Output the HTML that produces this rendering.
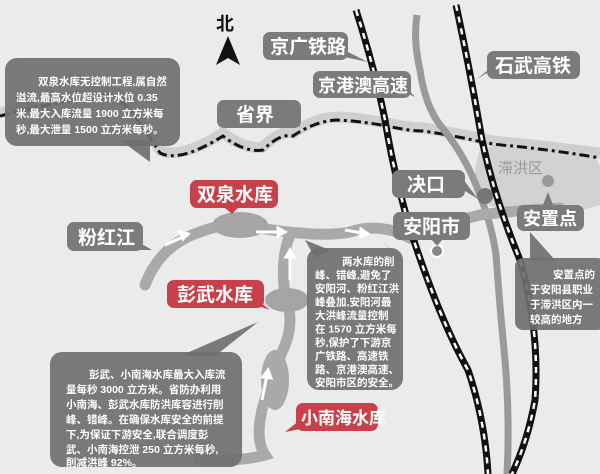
<!DOCTYPE html>
<html><head><meta charset="utf-8"><style>
html,body{margin:0;padding:0;background:#ebebec;}
svg{display:block}
text{font-family:"Liberation Sans","Noto Sans CJK SC",sans-serif;}
.lb{font-weight:bold;fill:#fff;font-size:19px}
.ct{font-family:"Noto Serif CJK SC","Liberation Serif",serif;fill:#fff;font-size:10.5px;font-weight:bold}
</style></head><body>
<svg width="600" height="474" viewBox="0 0 600 474" xmlns="http://www.w3.org/2000/svg">
<rect width="600" height="474" fill="#ebebec"/>
<!-- flood area -->
<path d="M480,150 Q520,135 560,148 Q600,150 600,170 L600,205 Q570,215 540,210 Q500,215 480,200 Q470,175 480,150Z" fill="#d2d2d3"/>
<!-- province border -->
<path d="M0,113 Q50,100 113,90 Q135,110 160,150 Q180,160 223,133 Q245,150 263,147 Q280,130 293,133 Q315,118 337,117 Q360,118 387,123 Q410,128 423,128 Q450,132 473,137 Q495,142 513,143 Q560,148 600,153" fill="none" stroke="#cfcfd0" stroke-width="11"/>
<path d="M0,116 Q50,103 113,93 Q135,113 160,153 Q180,163 223,136 Q245,153 263,150 Q280,133 293,136 Q315,121 337,120 Q360,121 387,126 Q410,131 423,131 Q450,135 473,140 Q495,145 513,146 Q560,151 600,158" fill="none" stroke="#111" stroke-width="3" stroke-dasharray="10,4,3,4"/>
<!-- expressway -->
<path d="M417,15 Q413,40 420,70 Q425,105 440,125 Q465,155 478,190 Q492,225 496,255 Q500,310 505,360 Q510,420 507,474" fill="none" stroke="#9a9a9b" stroke-width="7"/>
<!-- rivers -->
<g fill="none" stroke="#a9a9aa" stroke-width="11" stroke-linecap="round">
<path d="M145,285 Q160,245 200,232 Q225,222 250,226 Q280,232 300,233 Q330,236 350,232 Q380,222 410,238"/>
<path d="M290,235 Q280,260 285,295 Q295,320 285,345 Q270,380 262,410 Q255,440 265,455 Q240,462 200,460"/>
<path d="M410,238 Q440,225 480,215 Q520,210 560,208"/>
</g>
<ellipse cx="240" cy="225" rx="28" ry="13" fill="#a5a5a6"/>
<ellipse cx="287" cy="300" rx="22" ry="12" fill="#a5a5a6"/>
<ellipse cx="275" cy="380" rx="14" ry="30" fill="#a9a9aa"/>
<g stroke="#fff" stroke-width="3" fill="#fff">
<line x1="165" y1="245" x2="185" y2="236"/><path d="M188,234 l-8,-2 l3,7z"/>
<line x1="256" y1="232" x2="280" y2="232"/><path d="M285,232 l-7,-4 v8z"/>
<line x1="290" y1="280" x2="290" y2="255"/><path d="M290,250 l-4,7 h8z"/>
<line x1="262" y1="400" x2="267" y2="375"/><path d="M268,370 l-5,7 l8,1z"/>
<line x1="345" y1="230" x2="362" y2="233"/><path d="M368,234 l-7,-5 l-1,8z"/>
</g>
<!-- railways -->
<g fill="none" stroke-linecap="butt">
<path d="M356,10 Q375,70 385,120 Q395,180 412,235 Q440,320 468,370 Q485,420 488,474" stroke="#111" stroke-width="7"/>
<path d="M356,10 Q375,70 385,120 Q395,180 412,235 Q440,320 468,370 Q485,420 488,474" stroke="#fff" stroke-width="2.5" stroke-dasharray="6,6"/>
<path d="M456,5 Q470,70 482,140 Q495,200 520,260 Q540,330 535,400 Q528,440 512,474" stroke="#111" stroke-width="7"/>
<path d="M456,5 Q470,70 482,140 Q495,200 520,260 Q540,330 535,400 Q528,440 512,474" stroke="#fff" stroke-width="2.5" stroke-dasharray="6,6"/>
</g>
<circle cx="485" cy="196" r="8" fill="#777"/>
<circle cx="548" cy="181" r="6" fill="#999"/>
<circle cx="437" cy="251" r="6" fill="#888" stroke="#fff" stroke-width="2"/>
<text x="498" y="173" font-size="15" fill="#999">滞洪区</text>
<!-- north -->
<text x="216" y="30" font-size="18" font-weight="bold" fill="#111">北</text>
<path d="M228,36 L216,65 L228,58 L240,65Z" fill="#111"/>
<!-- label boxes -->
<g fill="#7b7b7c">
<rect x="263" y="32" width="85" height="28" rx="7"/><path d="M335,55 L368,62 L340,48Z"/>
<rect x="313" y="71" width="98" height="27" rx="7"/><path d="M400,90 L415,97 L400,80Z"/>
<rect x="487" y="51" width="93" height="28" rx="7"/><path d="M492,70 L477,79 L498,62Z"/>
<rect x="217" y="100" width="84" height="28" rx="7"/><path d="M290,120 L300,127 L300,110Z"/>
<rect x="392" y="170" width="73" height="28" rx="7"/><path d="M455,185 L478,199 L460,175Z"/>
<rect x="393" y="212" width="77" height="28" rx="7"/><path d="M432,240 L437,246 L442,240Z"/>
<rect x="517" y="205" width="67" height="26" rx="7"/><path d="M543,205 L548,192 L553,205Z"/>
<rect x="67" y="222" width="76" height="29" rx="7"/><path d="M135,240 L152,250 L135,250Z"/>
</g>
<g class="lb">
<text x="270" y="53">京广铁路</text>
<text x="318" y="92" font-size="18">京港澳高速</text>
<text x="495" y="72">石武高铁</text>
<text x="236" y="121">省界</text>
<text x="407" y="191">决口</text>
<text x="403" y="233">安阳市</text>
<text x="523" y="225" font-size="18">安置点</text>
<text x="78" y="244">粉红江</text>
</g>
<g fill="#c8414a">
<rect x="190" y="180" width="88" height="28" rx="7"/><path d="M225,208 L232,214 L238,208Z"/>
<rect x="167" y="280" width="97" height="28" rx="7"/><path d="M255,298 L270,310 L255,305Z"/>
<rect x="296" y="403" width="82" height="28" rx="7"/><path d="M300,420 L285,432 L305,428Z"/>
</g>
<g class="lb">
<text x="197" y="201">双泉水库</text>
<text x="177" y="301">彭武水库</text>
<text x="301" y="424" font-size="17">小南海水库</text>
</g>
<!-- callouts -->
<g fill="#6f6f70" fill-opacity="0.92">
<rect x="5" y="58" width="175" height="88" rx="12"/><path d="M120,140 L150,162 L150,140Z"/>
<rect x="307" y="248" width="96" height="142" rx="12"/><path d="M315,258 L305,240 L330,250Z"/><path d="M395,255 L380,238 L402,262Z"/>
<rect x="50" y="352" width="192" height="115" rx="12"/><path d="M180,356 L258,322 L215,356Z"/>
<rect x="515" y="258" width="90" height="72" rx="8"/><path d="M530,260 L530,232 L555,260Z"/>
</g>
<g class="ct">
<text x="38" y="85">双泉水库无控制工程,属自然</text>
<text x="16" y="101">溢流,最高水位超设计水位 0.35</text>
<text x="16" y="117">米,最大入库流量 1900 立方米每</text>
<text x="16" y="133">秒,最大泄量 1500 立方米每秒。</text>
</g>
<g class="ct" font-size="10.5">
<text x="342" y="265">两水库的削</text>
<text x="315" y="278.5">峰、错峰,避免了</text>
<text x="315" y="292">安阳河、粉红江洪</text>
<text x="315" y="305.5">峰叠加,安阳河最</text>
<text x="315" y="319">大洪峰流量控制</text>
<text x="315" y="332.5">在 1570 立方米每</text>
<text x="315" y="346">秒,保护了下游京</text>
<text x="315" y="359.5">广铁路、高速铁</text>
<text x="315" y="373">路、京港澳高速、</text>
<text x="315" y="386">安阳市区的安全。</text>
</g>
<g class="ct">
<text x="89" y="378">彭武、小南海水库最大入库流</text>
<text x="66" y="393">量每秒 3000 立方米。省防办利用</text>
<text x="66" y="408">小南海、彭武水库防洪库容进行削</text>
<text x="66" y="423">峰、错峰。在确保水库安全的前提</text>
<text x="66" y="438">下,为保证下游安全,联合调度彭</text>
<text x="66" y="453">武、小南海控泄 250 立方米每秒,</text>
<text x="66" y="466">削减洪峰 92%。</text>
</g>
<g class="ct">
<text x="553" y="278">安置点的</text>
<text x="530" y="293">于安阳县职业</text>
<text x="530" y="308">于滞洪区内一</text>
<text x="530" y="323">较高的地方</text>
</g>
</svg>
</body></html>
